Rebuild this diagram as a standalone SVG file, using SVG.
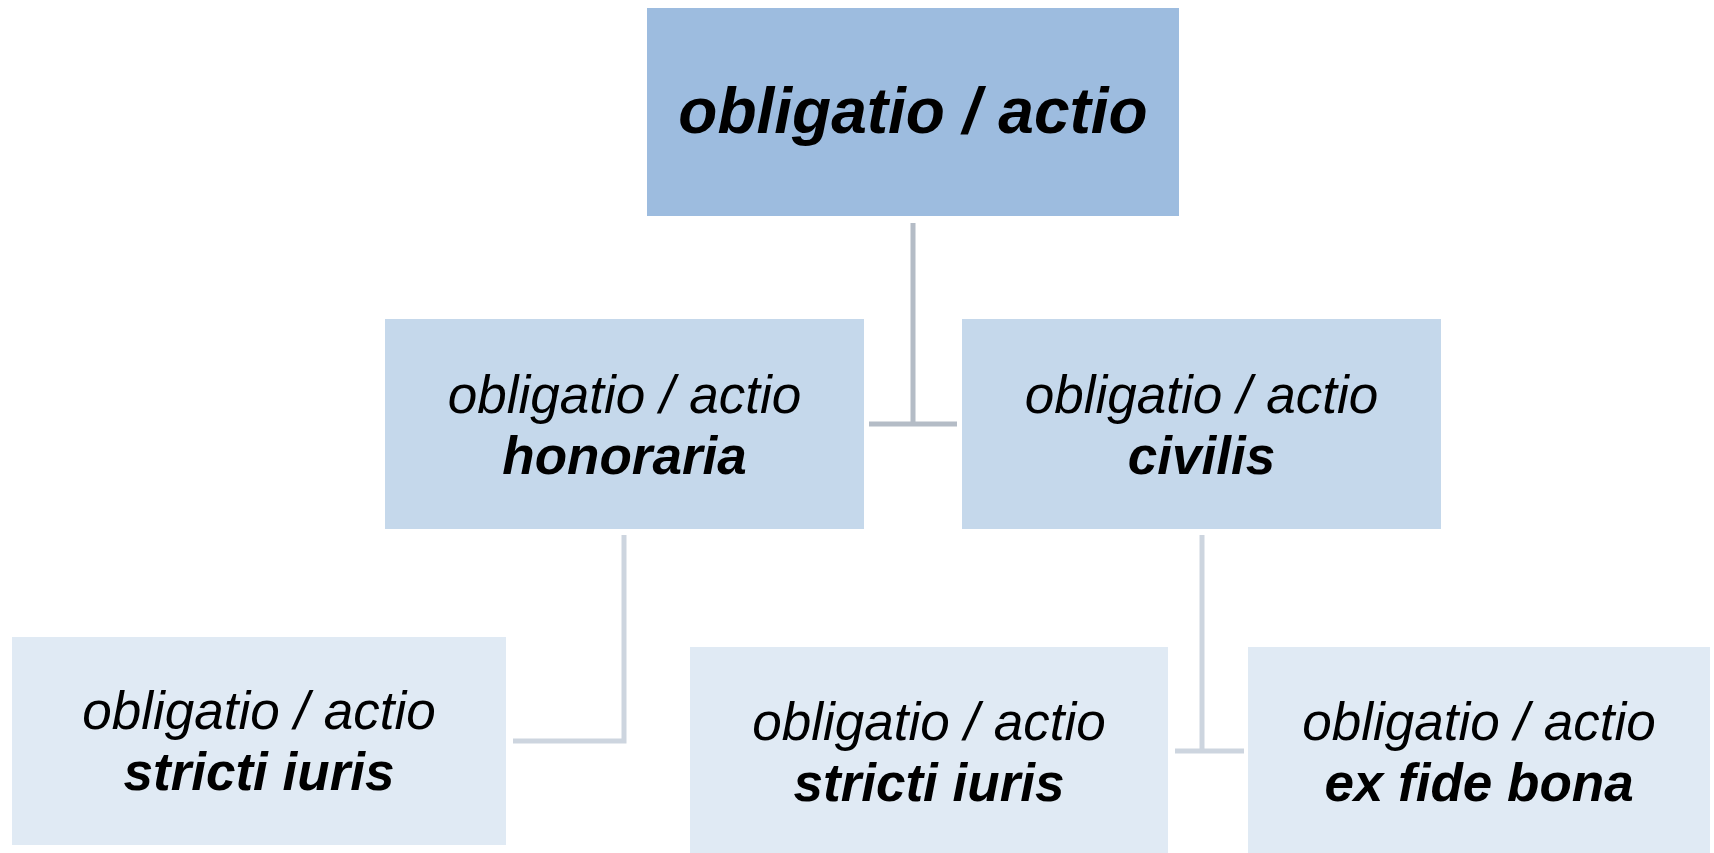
<svg xmlns="http://www.w3.org/2000/svg" width="1714" height="853" viewBox="0 0 1714 853">
<style>
.t{font-family:"Liberation Sans",Arial,sans-serif;font-style:italic;text-anchor:middle;fill:#000}
.s{font-size:53px}
.b{font-weight:bold}
.l1{fill:#9DBCDF}
.l2{fill:#C5D8EB}
.l3{fill:#E0EAF4}
.c1{stroke:#B4BCC6;stroke-width:5;fill:none}
.c2{stroke:#CDD5DF;stroke-width:5;fill:none}
</style>
<rect width="1714" height="853" fill="#FFFFFF"/>
<g id="connectors">
<path class="c1" d="M913 223 V424 M869 424 H957"/>
<path class="c2" d="M624 535 V741 H513"/>
<path class="c2" d="M1202 535 V751 M1175 751 H1244"/>
</g>
<g id="root">
<rect class="l1" x="647" y="8" width="532" height="208"/>
<text class="t b" x="913" y="133" font-size="64">obligatio / actio</text>
</g>
<g id="honoraria">
<rect class="l2" x="385" y="319" width="479" height="210"/>
<text class="t s" x="624.5" y="413">obligatio / actio</text>
<text class="t s b" x="624.5" y="474">honoraria</text>
</g>
<g id="civilis">
<rect class="l2" x="962" y="319" width="479" height="210"/>
<text class="t s" x="1201.5" y="413">obligatio / actio</text>
<text class="t s b" x="1201.5" y="474">civilis</text>
</g>
<g id="honoraria-stricti">
<rect class="l3" x="12" y="637" width="494" height="208"/>
<text class="t s" x="259" y="729">obligatio / actio</text>
<text class="t s b" x="259" y="790">stricti iuris</text>
</g>
<g id="civilis-stricti">
<rect class="l3" x="690" y="647" width="478" height="206"/>
<text class="t s" x="929" y="740">obligatio / actio</text>
<text class="t s b" x="929" y="801">stricti iuris</text>
</g>
<g id="civilis-bona">
<rect class="l3" x="1248" y="647" width="462" height="206"/>
<text class="t s" x="1479" y="740">obligatio / actio</text>
<text class="t s b" x="1479" y="801">ex fide bona</text>
</g>
</svg>
